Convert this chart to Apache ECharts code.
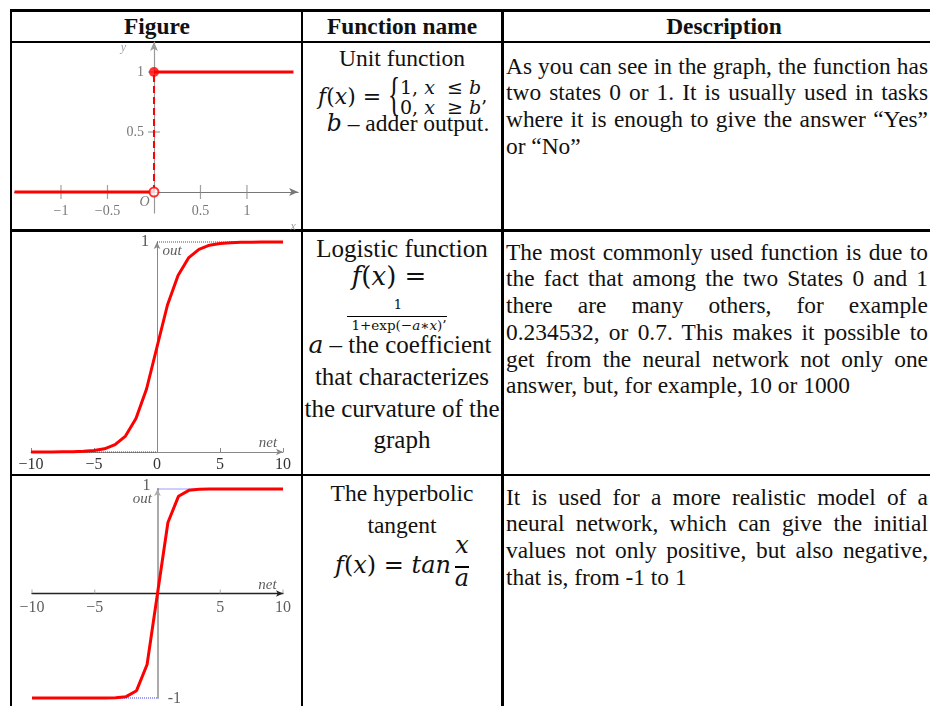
<!DOCTYPE html>
<html>
<head>
<meta charset="utf-8">
<title>Activation functions</title>
<script src="https://cdn.jsdelivr.net/npm/echarts@6/dist/echarts.min.js"></script>
<style>
  body {
    margin: 0;
    width: 930px;
    height: 706px;
    position: relative;
    overflow: hidden;
    background: #fff;
    color: #111;
    font-family: "Liberation Serif", serif;
  }
  .rule { position: absolute; background: #000; }
  .t { position: absolute; white-space: nowrap; line-height: 1; }
  .c { transform: translateX(-50%); }
  .hd { font-size: 23.4px; font-weight: bold; }
  .mid { font-size: 23.5px; }
  .mid2 { font-size: 25px; }
  .math { font-family: "DejaVu Serif", serif; }
  .i { font-style: italic; }
  .desc {
    position: absolute;
    left: 506px;
    width: 422px;
    font-size: 23.4px;
    line-height: 26.7px;
    text-align: justify;
  }
  #figures { position: absolute; left: 0; top: 0; width: 302px; height: 706px; }
</style>
</head>
<body>

<!-- table rules -->
<div class="rule" style="left:9.5px;top:9px;width:921px;height:2.5px"></div>
<div class="rule" style="left:9.5px;top:41px;width:921px;height:1.5px"></div>
<div class="rule" style="left:9.5px;top:229px;width:921px;height:2.5px"></div>
<div class="rule" style="left:9.5px;top:473.5px;width:921px;height:2.5px"></div>
<div class="rule" style="left:9.5px;top:9px;width:2.7px;height:697px"></div>
<div class="rule" style="left:300.5px;top:9px;width:2.7px;height:697px"></div>
<div class="rule" style="left:501px;top:9px;width:2.5px;height:697px"></div>

<!-- header -->
<div class="t c hd" style="left:157px;top:15.4px">Figure</div>
<div class="t c hd" style="left:402px;top:15.4px">Function name</div>
<div class="t c hd" style="left:724px;top:15.4px">Description</div>

<!-- row 1: unit function -->
<div class="t c mid" style="left:402px;top:47px">Unit function</div>
<div class="t math" style="left:318px;top:86px;font-size:22px"><span class="i">f</span>(<span class="i">x</span>) =</div>
<div class="t" style="left:388px;top:72px;font-size:46px;transform:scaleX(0.55);transform-origin:left">{</div>
<div class="t math" style="left:400px;top:77.5px;font-size:19px">1, <span class="i">x</span>&nbsp; ≤ <span class="i">b</span></div>
<div class="t math" style="left:400px;top:97.5px;font-size:19px">0, <span class="i">x</span>&nbsp; ≥ <span class="i">b</span>’</div>
<div class="t c mid" style="left:408px;top:112px"><span class="math i">b</span> – adder output.</div>

<!-- row 2: logistic -->
<div class="t c mid2" style="left:402px;top:235.8px">Logistic function</div>
<div class="t c math" style="left:389px;top:263px;font-size:26px"><span class="i">f</span>(<span class="i">x</span>) =</div>
<div class="t c math" style="left:398px;top:297.5px;font-size:13px">1</div>
<div class="rule" style="left:347px;top:316px;width:100px;height:1.3px"></div>
<div class="t c math" style="left:399px;top:319px;font-size:13.5px">1+exp(−<span class="i">a</span>∗<span class="i">x</span>)’</div>
<div class="t c mid2" style="left:400px;top:332px"><span class="math i">a</span> – the coefficient</div>
<div class="t c mid2" style="left:402px;top:364px">that characterizes</div>
<div class="t c mid2" style="left:402px;top:395.8px">the curvature of the</div>
<div class="t c mid2" style="left:402px;top:427px">graph</div>

<!-- row 3: hyperbolic tangent -->
<div class="t c mid" style="left:402px;top:482px">The hyperbolic</div>
<div class="t c mid" style="left:402px;top:513.6px">tangent</div>
<div class="t math" style="left:335px;top:552.7px;font-size:24px"><span class="i">f</span>(<span class="i">x</span>) = <span class="i">tan</span></div>
<div class="t c math i" style="left:462px;top:532.7px;font-size:24px">x</div>
<div class="rule" style="left:455px;top:566px;width:14px;height:1.5px"></div>
<div class="t c math i" style="left:462px;top:566.4px;font-size:24px">a</div>

<!-- descriptions -->
<div class="desc" style="top:52.75px">As you can see in the graph, the function has two states 0 or 1. It is usually used in tasks where it is enough to give the answer “Yes” or “No”</div>
<div class="desc" style="top:238.75px">The most commonly used function is due to the fact that among the two States 0 and 1 there are many others, for example 0.234532, or 0.7. This makes it possible to get from the neural network not only one answer, but, for example, 10 or 1000</div>
<div class="desc" style="top:483.75px">It is used for a more realistic model of a neural network, which can give the initial values not only positive, but also negative, that is, from -1 to 1</div>

<div id="figures"></div>

<script>
// unit step function
const stepXTicks = [-1, -0.5, 0.5, 1];
const stepYTicks = [0.5, 1];
const stepLow = [[-1.5, 0], [0, 0]];
const stepHigh = [[0, 1], [1.5, 1]];
const stepJump = [[0, 0], [0, 1]];

// logistic and tanh
const netSamples = [-10, -9.17, -8.33, -7.5, -6.67, -5.83, -5, -4.17, -3.33, -2.5, -1.67, -0.83,
  0, 0.83, 1.67, 2.5, 3.33, 4.17, 5, 5.83, 6.67, 7.5, 8.33, 9.17, 10];
const logisticOut = [0, 0, 0, 0.001, 0.001, 0.003, 0.007, 0.015, 0.035, 0.076, 0.16, 0.30,
  0.50, 0.70, 0.84, 0.924, 0.965, 0.985, 0.993, 0.997, 0.999, 0.999, 1, 1, 1];
const tanhOut = [-1, -1, -1, -1, -1, -1, -1, -0.999, -0.997, -0.987, -0.93, -0.68,
  0, 0.68, 0.93, 0.987, 0.997, 0.999, 1, 1, 1, 1, 1, 1, 1];
const netTicks = [-10, -5, 0, 5, 10];
const tanhTicks = [-10, -5, 5, 10];

// dotted guide lines (asymptotes)
const logisticLowGuide = [[-10, 0], [0, 0]];
const logisticHighGuide = [[0, 1], [10, 1]];
const tanhLowGuide = [[-10, -1], [0, -1]];
const tanhHighGuide = [[0, 1], [10, 1]];

const RED = '#ff0000';
const BLUE = '#3b3bff';
const FONT = 'Liberation Serif';

const minus = v => (v < 0 ? '\u2212' + Math.abs(v) : String(v));
const zip = (xs, ys) => xs.map((x, i) => [x, ys[i]]);

// text-only scatter used for axis names and hand placed labels
const textSeries = (gi, items, style) => ({
  type: 'scatter',
  xAxisIndex: gi,
  yAxisIndex: gi,
  silent: true,
  clip: false,
  symbolSize: 1,
  itemStyle: { color: 'rgba(0,0,0,0)' },
  data: items.map(d => ({ value: [d[0], d[1]], name: d[2] })),
  label: Object.assign({
    show: true,
    position: 'inside',
    formatter: p => p.name,
    fontFamily: FONT,
    color: '#333'
  }, style),
  z: 5
});

const plainLine = (gi, data, style) => ({
  type: 'line',
  xAxisIndex: gi,
  yAxisIndex: gi,
  data: data,
  symbol: 'none',
  clip: false,
  silent: true,
  lineStyle: style
});

const chart = echarts.init(document.getElementById('figures'));

chart.setOption({
  animation: false,
  grid: [
    { left: 14.5, top: 42, width: 283.6, height: 171 },
    { left: 31, top: 242, width: 252, height: 210 },
    { left: 32, top: 489, width: 251, height: 209 }
  ],
  xAxis: [
    {
      gridIndex: 0, type: 'value', min: -1.5, max: 1.55,
      axisLine: { onZero: true, symbol: ['none', 'arrow'], symbolSize: [6, 9], lineStyle: { color: '#777', width: 1.2 } },
      axisTick: { show: false }, axisLabel: { show: false }, splitLine: { show: false }
    },
    {
      gridIndex: 1, type: 'value', min: -10, max: 10, interval: 5,
      axisLine: { onZero: true, symbol: ['none', 'arrow'], symbolSize: [5, 7], lineStyle: { color: '#888', width: 1 } },
      axisTick: { show: true, inside: true, length: 4, lineStyle: { color: '#888' } },
      splitLine: { show: false },
      axisLabel: {
        margin: 5, fontSize: 16, fontFamily: FONT, color: '#333',
        formatter: v => (netTicks.includes(v) ? minus(v) : '')
      }
    },
    {
      gridIndex: 2, type: 'value', min: -10, max: 10,
      axisLine: { onZero: true, symbol: ['none', 'arrow'], symbolSize: [5, 7], lineStyle: { color: '#222', width: 1.3 } },
      axisTick: { show: false }, axisLabel: { show: false }, splitLine: { show: false }
    }
  ],
  yAxis: [
    {
      gridIndex: 0, type: 'value', min: -0.175, max: 1.25,
      axisLine: { onZero: true, symbol: ['none', 'arrow'], symbolSize: [6, 9], lineStyle: { color: '#999', width: 1.2 } },
      axisTick: { show: false }, axisLabel: { show: false }, splitLine: { show: false }
    },
    {
      gridIndex: 1, type: 'value', min: 0, max: 1,
      axisLine: { onZero: true, symbol: ['none', 'arrow'], symbolSize: [5, 7], lineStyle: { color: '#888', width: 1 } },
      axisTick: { show: false }, axisLabel: { show: false }, splitLine: { show: false }
    },
    {
      gridIndex: 2, type: 'value', min: -1, max: 1,
      axisLine: { onZero: true, symbol: ['none', 'arrow'], symbolSize: [5, 7], lineStyle: { color: '#aaa', width: 2 } },
      axisTick: { show: false }, axisLabel: { show: false }, splitLine: { show: false }
    }
  ],
  series: [
    // --- unit step: cross ticks with their labels ---
    {
      type: 'scatter', xAxisIndex: 0, yAxisIndex: 0, silent: true,
      symbol: 'rect', symbolSize: [1.2, 14], itemStyle: { color: '#888' },
      data: stepXTicks.map(v => [v, 0]),
      label: {
        show: true, position: 'bottom', distance: 5, fontSize: 14, fontFamily: FONT, color: '#555',
        formatter: p => minus(p.value[0])
      }
    },
    {
      type: 'scatter', xAxisIndex: 0, yAxisIndex: 0, silent: true,
      symbol: 'rect', symbolSize: [12, 1.2], itemStyle: { color: '#888' },
      data: stepYTicks.map(v => [0, v]),
      label: {
        show: true, position: 'left', distance: 4, fontSize: 14, fontFamily: FONT, color: '#555',
        formatter: p => String(p.value[1])
      }
    },
    plainLine(0, stepLow, { color: RED, width: 3 }),
    plainLine(0, stepHigh, { color: RED, width: 3 }),
    plainLine(0, stepJump, { color: RED, width: 2, type: [7, 4] }),
    {
      type: 'scatter', xAxisIndex: 0, yAxisIndex: 0, silent: true, z: 4,
      symbolSize: 9, itemStyle: { color: '#fff', borderColor: RED, borderWidth: 2 },
      data: [stepLow[1]]
    },
    {
      type: 'scatter', xAxisIndex: 0, yAxisIndex: 0, silent: true, z: 4,
      symbolSize: 10, itemStyle: { color: RED },
      data: [stepHigh[0]]
    },
    textSeries(0, [[-0.33, 1.2, 'y'], [1.496, -0.29, 'x']], { fontSize: 12, fontStyle: 'italic', color: '#888' }),
    textSeries(0, [[-0.1, -0.09, 'O']], { fontSize: 14, fontStyle: 'italic', color: '#555' }),

    // --- logistic ---
    plainLine(1, logisticLowGuide, { color: BLUE, width: 1, type: 'dotted' }),
    plainLine(1, logisticHighGuide, { color: BLUE, width: 1, type: 'dotted' }),
    plainLine(1, zip(netSamples, logisticOut), { color: RED, width: 3 }),
    textSeries(1, [[-0.95, 1.0, '1']], { fontSize: 17 }),
    textSeries(1, [[1.2, 0.957, 'out'], [8.8, 0.043, 'net']], { fontSize: 15, fontStyle: 'italic' }),

    // --- hyperbolic tangent ---
    {
      type: 'scatter', xAxisIndex: 2, yAxisIndex: 2, silent: true,
      symbol: 'rect', symbolSize: [1, 4], symbolOffset: [0, -2], itemStyle: { color: '#999' },
      data: tanhTicks.map(v => [v, 0]),
      label: {
        show: true, position: 'bottom', distance: 6, fontSize: 16, fontFamily: FONT, color: '#333',
        formatter: p => minus(p.value[0])
      }
    },
    plainLine(2, tanhLowGuide, { color: BLUE, width: 1, type: 'dotted' }),
    plainLine(2, tanhHighGuide, { color: BLUE, width: 1, type: 'dotted' }),
    plainLine(2, zip(netSamples, tanhOut), { color: RED, width: 3 }),
    textSeries(2, [[-0.88, 1.03, '1'], [1.35, -1.005, '-1']], { fontSize: 16 }),
    textSeries(2, [[-1.2, 0.9, 'out'], [8.76, 0.077, 'net']], { fontSize: 15, fontStyle: 'italic' })
  ]
});
</script>
</body>
</html>
